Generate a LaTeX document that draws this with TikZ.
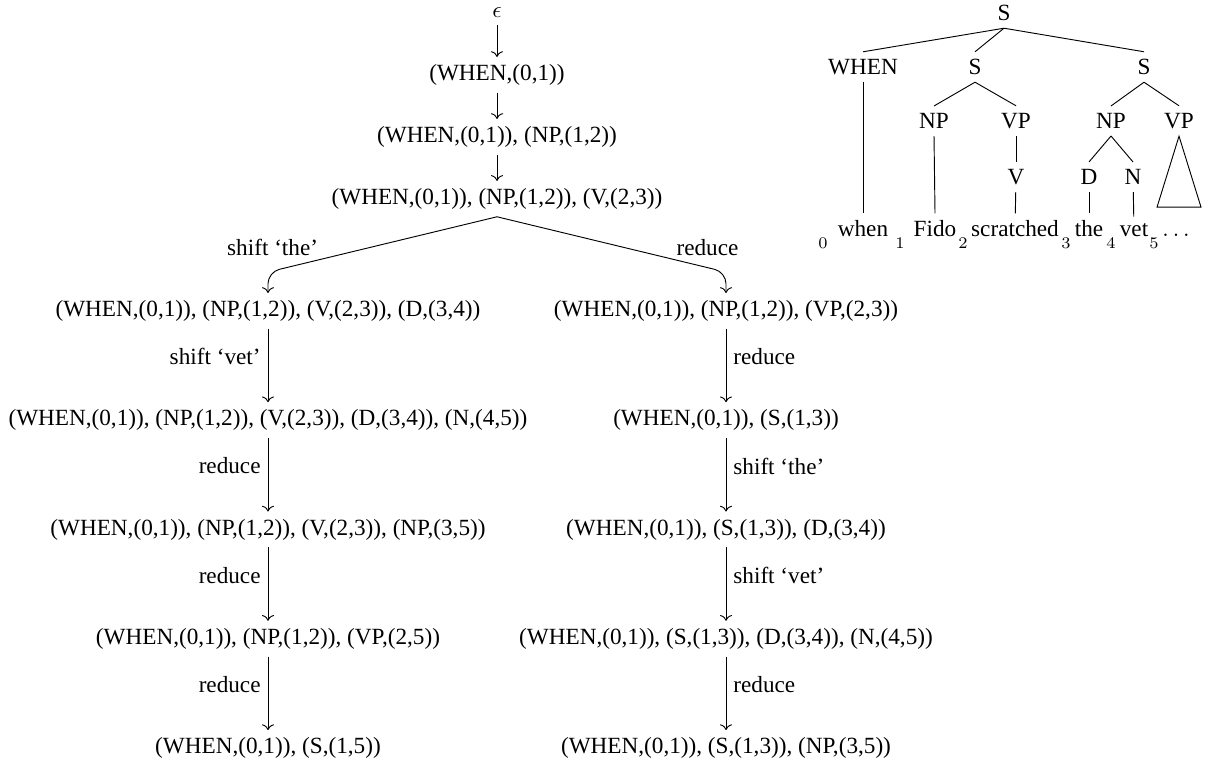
\documentclass[tikz,border=0pt]{standalone}
\usepackage[no-math]{fontspec}
\setmainfont{Liberation Serif}
\usetikzlibrary{arrows.meta, positioning}

\begin{document}
\begin{tikzpicture}[x=0.431pt, y=-0.431pt, >=To, on grid,
  state/.style={inner sep=3pt},
  lbl/.style={inner sep=3pt},
  cat/.style={inner sep=3pt},
  word/.style={inner sep=3pt, anchor=base},
  idx/.style={inner sep=0pt, anchor=base}]
  \useasboundingbox (0,0) rectangle (1205,762);
  % search over parser states
  \node[state] (eps) at (497,13) {$\epsilon$};
  \node[state, below=26.7pt of eps] (s1) {(WHEN,(0,1))};
  \node[state, below=26.7pt of s1] (s2) {(WHEN,(0,1)), (NP,(1,2))};
  \node[state, below=26.7pt of s2] (s3) {(WHEN,(0,1)), (NP,(1,2)), (V,(2,3))};
  \draw[->] (eps) -- (s1);
  \draw[->] (s1) -- (s2);
  \draw[->] (s2) -- (s3);
  % shift branch
  \node[state, below left=48.3pt and 98.7pt of s3] (l1) {(WHEN,(0,1)), (NP,(1,2)), (V,(2,3)), (D,(3,4))};
  \node[state, below=47.1pt of l1] (l2) {(WHEN,(0,1)), (NP,(1,2)), (V,(2,3)), (D,(3,4)), (N,(4,5))};
  \node[state, below=47.1pt of l2] (l3) {(WHEN,(0,1)), (NP,(1,2)), (V,(2,3)), (NP,(3,5))};
  \node[state, below=47.1pt of l3] (l4) {(WHEN,(0,1)), (NP,(1,2)), (VP,(2,5))};
  \node[state, below=47.1pt of l4] (l5) {(WHEN,(0,1)), (S,(1,5))};
  % reduce branch
  \node[state, below right=48.3pt and 98.7pt of s3] (r1) {(WHEN,(0,1)), (NP,(1,2)), (VP,(2,3))};
  \node[state, below=47.1pt of r1] (r2) {(WHEN,(0,1)), (S,(1,3))};
  \node[state, below=47.1pt of r2] (r3) {(WHEN,(0,1)), (S,(1,3)), (D,(3,4))};
  \node[state, below=47.1pt of r3] (r4) {(WHEN,(0,1)), (S,(1,3)), (D,(3,4)), (N,(4,5))};
  \node[state, below=47.1pt of r4] (r5) {(WHEN,(0,1)), (S,(1,3)), (NP,(3,5))};
  \draw[->, rounded corners=5pt] (s3.south) -- ([yshift=9pt]l1.north) node[lbl, above=4pt, xshift=2pt] {shift `the'} -- (l1.north);
  \draw[->, rounded corners=5pt] (s3.south) -- ([yshift=9pt]r1.north) node[lbl, above=4pt, xshift=-8pt] {reduce} -- (r1.north);
  \draw[->] (l1) -- node[lbl, pos=0.38, left] {shift `vet'} (l2);
  \draw[->] (l2) -- node[lbl, pos=0.38, left] {reduce} (l3);
  \draw[->] (l3) -- node[lbl, pos=0.38, left] {reduce} (l4);
  \draw[->] (l4) -- node[lbl, pos=0.38, left] {reduce} (l5);
  \draw[->] (r1) -- node[lbl, pos=0.38, right] {reduce} (r2);
  \draw[->] (r2) -- node[lbl, pos=0.38, right] {shift `the'} (r3);
  \draw[->] (r3) -- node[lbl, pos=0.38, right] {shift `vet'} (r4);
  \draw[->] (r4) -- node[lbl, pos=0.38, right] {reduce} (r5);
  % partial parse tree
  \node[cat] (tS) at (1004,13) {S};
  \node[cat] (tWhen) at (863,67) {WHEN};
  \node[cat] (tS1) at (975,67) {S};
  \node[cat] (tS2) at (1144,67) {S};
  \node[cat] (tNP1) at (934,121) {NP};
  \node[cat] (tVP1) at (1016,121) {VP};
  \node[cat] (tNP2) at (1111,121) {NP};
  \node[cat] (tVP2) at (1179,121) {VP};
  \node[cat] (tV) at (1016,177) {V};
  \node[cat] (tD) at (1089,177) {D};
  \node[cat] (tN) at (1133,177) {N};
  \node[word] (wWhen) at (863,237) {when};
  \node[word] (wFido) at (935,237) {Fido};
  \node[word] (wScratched) at (1015,237) {scratched};
  \node[word] (wThe) at (1089,237) {the};
  \node[word] (wVet) at (1134,237) {vet};
  \node[word] (wDots) at (1176,237) {$\ldots$};
  \node[idx] (i0) at (823,249) {$\scriptstyle 0$};
  \node[idx] (i1) at (900,249) {$\scriptstyle 1$};
  \node[idx] (i2) at (963,249) {$\scriptstyle 2$};
  \node[idx] (i3) at (1066,249) {$\scriptstyle 3$};
  \node[idx] (i4) at (1111,249) {$\scriptstyle 4$};
  \node[idx] (i5) at (1154,249) {$\scriptstyle 5$};
  \draw (tS.south) -- (tWhen.north);
  \draw (tS.south) -- (tS1.north);
  \draw (tS.south) -- (tS2.north);
  \draw (tWhen.south) -- (wWhen.north);
  \draw (tS1.south) -- (tNP1.north);
  \draw (tS1.south) -- (tVP1.north);
  \draw (tNP1.south) -- (wFido.north);
  \draw (tVP1) -- (tV);
  \draw (tV) -- (wScratched);
  \draw (tS2.south) -- (tNP2.north);
  \draw (tS2.south) -- (tVP2.north);
  \draw (tNP2.south) -- (tD.north);
  \draw (tNP2.south) -- (tN.north);
  \draw (tD) -- (wThe);
  \draw (tN) -- (wVet);
  \draw (tVP2.south) -- ++(-22,71) -- ++(44,0) -- cycle;
\end{tikzpicture}
\end{document}
